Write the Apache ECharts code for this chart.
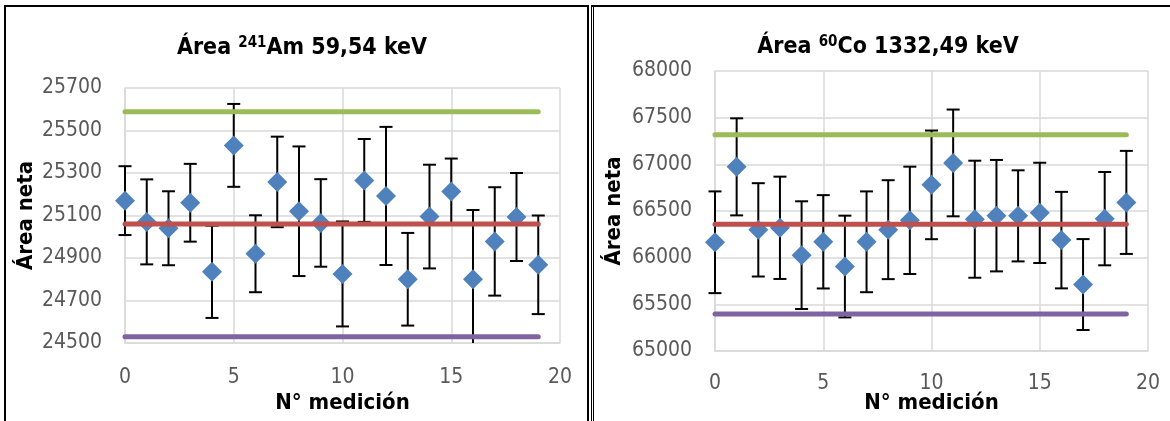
<!DOCTYPE html>
<html>
<head>
<meta charset="utf-8">
<script src="https://cdn.jsdelivr.net/npm/echarts/dist/echarts.min.js"></script>
<style>
  html, body { margin: 0; padding: 0; background: #fff; }
  #wrap { position: relative; width: 1170px; height: 421px; overflow: hidden; }
  #chart { position: absolute; left: 0; top: 0; width: 1170px; height: 421px; }
  .b { position: absolute; background: #000; }
</style>
</head>
<body>
<div id="wrap">
  <div id="chart"></div>
  <!-- panel frames -->
  <div class="b" style="left:4px;top:5px;width:2px;height:416px"></div>
  <div class="b" style="left:4px;top:5px;width:585px;height:2px"></div>
  <div class="b" style="left:587px;top:5px;width:2px;height:416px"></div>
  <div class="b" style="left:591px;top:5px;width:1px;height:416px"></div>
  <div class="b" style="left:593px;top:5px;width:1px;height:416px"></div>
  <div class="b" style="left:591px;top:5px;width:579px;height:2px"></div>
</div>
<script>
// ---------- data ----------
const measIdx = [0, 1, 2, 3, 4, 5, 6, 7, 8, 9, 10, 11, 12, 13, 14, 15, 16, 17, 18, 19];

const amArea = [25170, 25070, 25040, 25160, 24835, 25430, 24920, 25258, 25120, 25065,
                24825, 25265, 25192, 24800, 25095, 25213, 24800, 24978, 25093, 24868];
const amErr  = [162, 200, 174, 183, 217, 195, 181, 213, 305, 206,
                247, 195, 325, 218, 244, 155, 326, 255, 207, 232];
const amUpper = 25588;
const amMean  = 25060;
const amLower = 24530;

const coArea = [66165, 66973, 66298, 66320, 66027, 66170, 65905, 66170, 66300, 66400,
                66780, 67015, 66412, 66450, 66448, 66480, 66188, 65712, 66418, 66592];
const coErr  = [545, 520, 500, 548, 577, 500, 545, 540, 530, 575,
                582, 572, 627, 597, 488, 537, 517, 487, 500, 552];
const coUpper = 67318;
const coMean  = 66357;
const coLower = 65396;

const xTicks = [0, 5, 10, 15, 20];
const amYTicks = [24500, 24700, 24900, 25100, 25300, 25500, 25700];
const coYTicks = [65000, 65500, 66000, 66500, 67000, 67500, 68000];

const titleAm = ['Área ', '241', 'Am 59,54 keV'];
const titleCo = ['Área ', '60', 'Co 1332,49 keV'];
const xName = 'N° medición';
const yName = 'Área neta';

// ---------- styles ----------
const FONT = "'Liberation Sans Narrow', 'Arial Narrow', 'DejaVu Sans Condensed', sans-serif";
const BLUE = '#4f81bd', GREEN = '#9bbb59', RED = '#c0504d', PURPLE = '#8064a2';
const GRIDC = '#d9d9d9';

function pts(xs, ys) { return xs.map((x, i) => [x, ys[i]]); }
function errData(xs, ys, es) { return xs.map((x, i) => [x, ys[i] - es[i], ys[i] + es[i]]); }
function hline(v) { return [[measIdx[0], v], [measIdx[measIdx.length - 1], v]]; }

function makeErrRender(yMin, yMax) {
  return function (params, api) {
    const x = api.value(0);
    const loV = api.value(1), hiV = api.value(2);
    const lo = api.coord([x, Math.max(loV, yMin)]);
    const hi = api.coord([x, Math.min(hiV, yMax)]);
    const hw = 6.5;
    const st = { stroke: '#000', lineWidth: 2 };
    const ch = [{ type: 'line', shape: { x1: lo[0], y1: lo[1], x2: hi[0], y2: hi[1] }, style: st }];
    if (loV >= yMin) ch.push({ type: 'line', shape: { x1: lo[0] - hw, y1: lo[1], x2: lo[0] + hw, y2: lo[1] }, style: st });
    if (hiV <= yMax) ch.push({ type: 'line', shape: { x1: hi[0] - hw, y1: hi[1], x2: hi[0] + hw, y2: hi[1] }, style: st });
    return { type: 'group', children: ch };
  };
}

function xAxisCfg(gi, nameGap, labMargin) {
  return {
    gridIndex: gi, type: 'value', min: xTicks[0], max: xTicks[xTicks.length - 1], interval: 5,
    axisLine: { show: true, lineStyle: { color: GRIDC, width: 1.5 } },
    axisTick: { show: false },
    splitLine: { show: true, lineStyle: { color: GRIDC, width: 1.5 } },
    axisLabel: { color: '#595959', fontFamily: FONT, fontSize: 21, margin: labMargin, formatter: v => String(v) },
    name: xName, nameLocation: 'middle', nameGap: nameGap, nameMoveOverlap: false,
    nameTextStyle: { color: '#000', fontFamily: FONT, fontSize: 22, fontWeight: 'bold' }
  };
}
function yAxisCfg(gi, ticks, interval, nameGap) {
  return {
    gridIndex: gi, type: 'value', min: ticks[0], max: ticks[ticks.length - 1], interval: interval,
    axisLine: { show: true, lineStyle: { color: GRIDC, width: 1.5 } },
    axisTick: { show: false },
    splitLine: { show: true, lineStyle: { color: GRIDC, width: 1.5 } },
    axisLabel: { color: '#595959', fontFamily: FONT, fontSize: 21, margin: 23, formatter: v => String(v) },
    name: yName, nameLocation: 'middle', nameGap: nameGap, nameMoveOverlap: false,
    nameTextStyle: { color: '#000', fontFamily: FONT, fontSize: 22, fontWeight: 'bold' }
  };
}
function titleCfg(parts, cx, top) {
  return {
    text: '{b|' + parts[0] + '}{s|' + parts[1] + '}{b|' + parts[2] + '}',
    left: cx, top: top, textAlign: 'center',
    textStyle: {
      rich: {
        b: { fontFamily: FONT, fontSize: 23, fontWeight: 'bold', color: '#000', lineHeight: 28, verticalAlign: 'bottom' },
        s: { fontFamily: FONT, fontSize: 15, fontWeight: 'bold', color: '#000', lineHeight: 28, verticalAlign: 'bottom', padding: [0, 0, 9, 0] }
      }
    }
  };
}
function seriesFor(gi, area, err, up, mean, low, ticks) {
  const lineS = (v, c) => ({
    type: 'line', xAxisIndex: gi, yAxisIndex: gi, data: hline(v), symbol: 'none', z: 5,
    lineStyle: { color: c, width: 5, cap: 'round' }, silent: true, animation: false
  });
  return [
    { type: 'custom', xAxisIndex: gi, yAxisIndex: gi,
      renderItem: makeErrRender(ticks[0], ticks[ticks.length - 1]), clip: false,
      data: errData(measIdx, area, err), encode: { x: 0, y: [1, 2] }, z: 2, animation: false },
    { type: 'scatter', xAxisIndex: gi, yAxisIndex: gi, data: pts(measIdx, area), symbol: 'diamond',
      symbolSize: 20, itemStyle: { color: BLUE, opacity: 1 }, z: 3, animation: false },
    lineS(up, GREEN), lineS(mean, RED), lineS(low, PURPLE)
  ];
}

const chart = echarts.init(document.getElementById('chart'), null, { renderer: 'canvas' });
chart.setOption({
  animation: false,
  title: [titleCfg(titleAm, 297, 27), titleCfg(titleCo, 883, 26)],
  grid: [
    { left: 125, top: 88, width: 435, height: 255, containLabel: false, outerBoundsMode: 'none' },
    { left: 715, top: 71, width: 433, height: 280, containLabel: false, outerBoundsMode: 'none' }
  ],
  xAxis: [xAxisCfg(0, 49, 24), xAxisCfg(1, 41, 22)],
  yAxis: [yAxisCfg(0, amYTicks, 200, 88), yAxisCfg(1, coYTicks, 500, 90)],
  series: [].concat(
    seriesFor(0, amArea, amErr, amUpper, amMean, amLower, amYTicks),
    seriesFor(1, coArea, coErr, coUpper, coMean, coLower, coYTicks)
  )
});
</script>
</body>
</html>
